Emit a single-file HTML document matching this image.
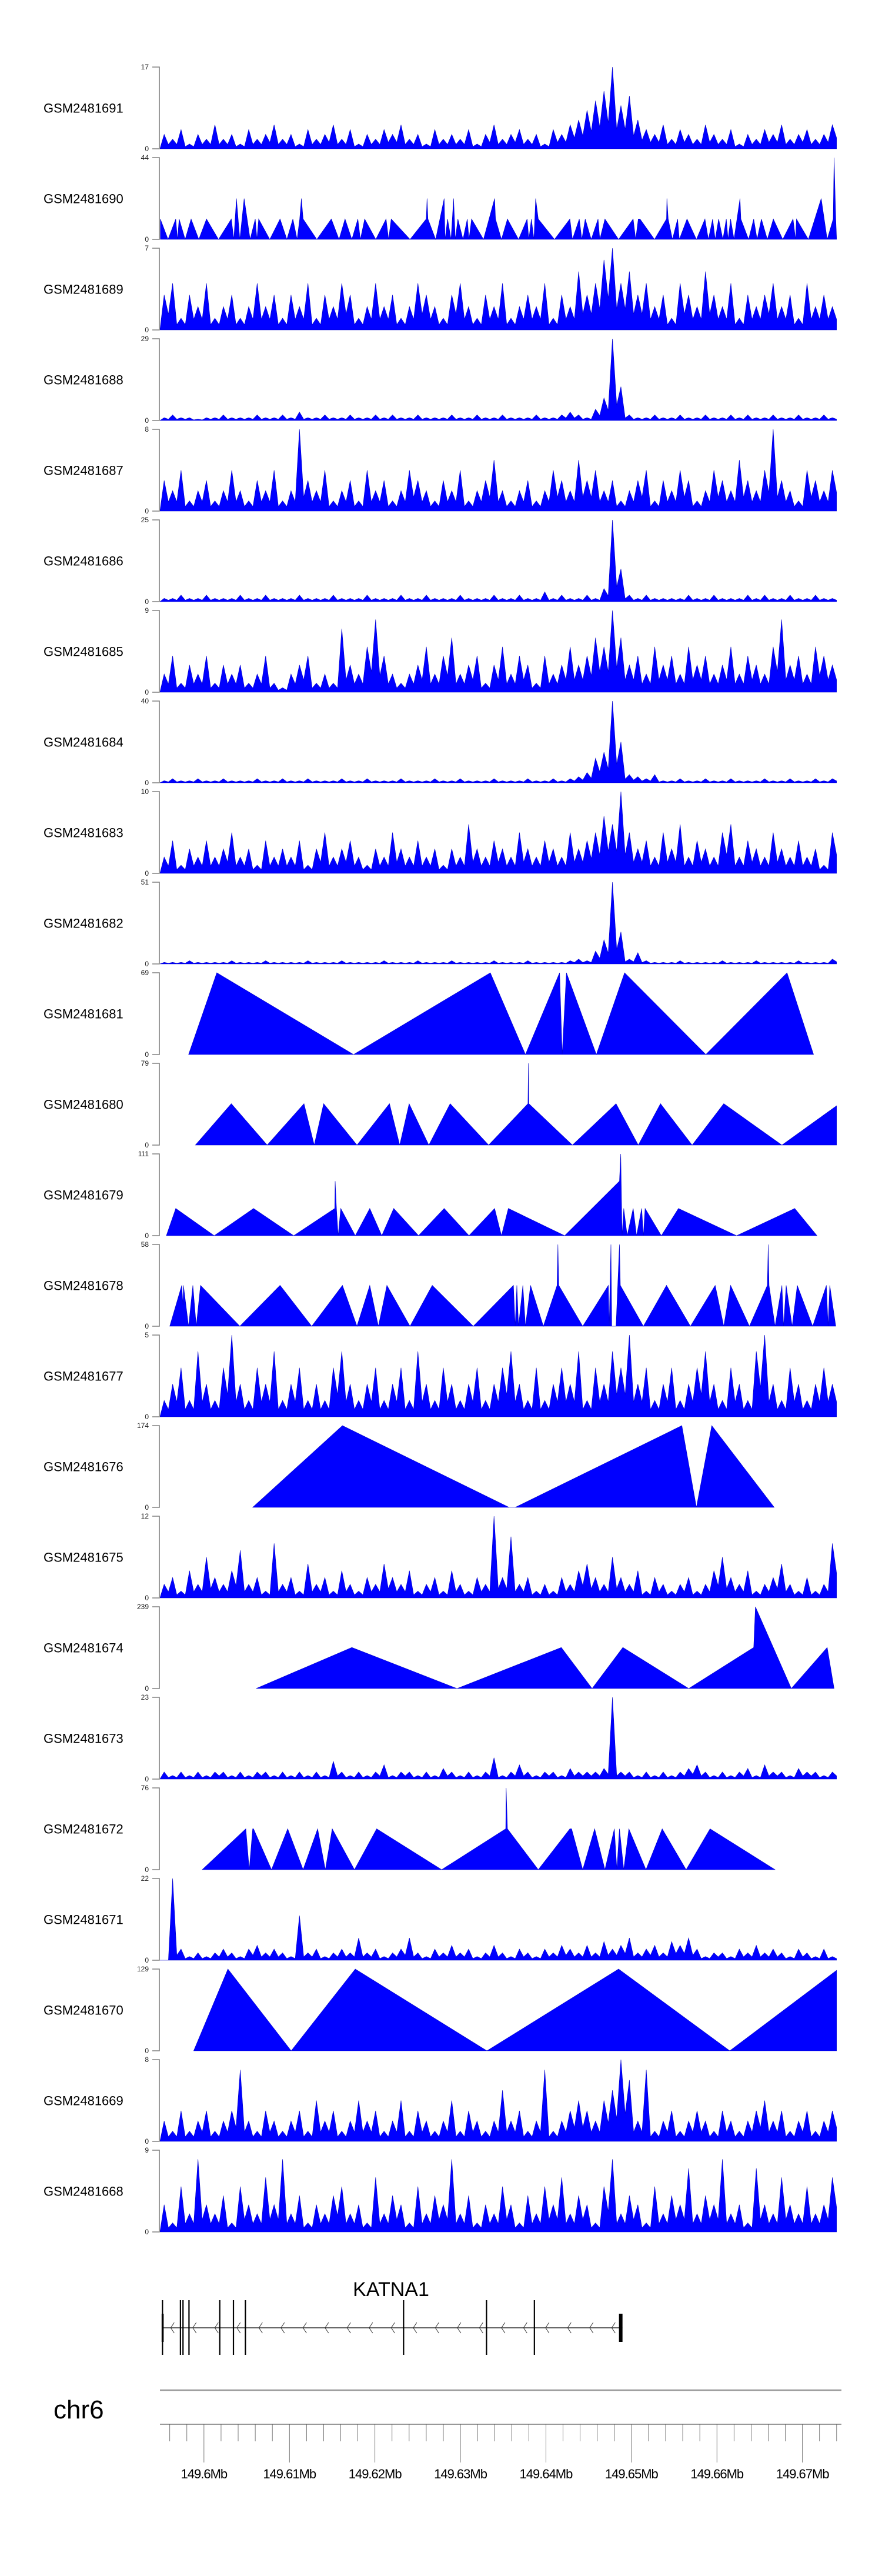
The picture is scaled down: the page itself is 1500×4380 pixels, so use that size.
<!DOCTYPE html>
<html><head><meta charset="utf-8"><title>KATNA1 coverage tracks</title>
<style>
html,body{margin:0;padding:0;background:#fff;}
svg{display:block;font-family:"Liberation Sans",Arial,sans-serif;}
</style></head>
<body>
<svg id="chart" width="1500" height="4380" viewBox="0 0 1500 4380" xmlns="http://www.w3.org/2000/svg">
<defs><clipPath id="plotclip"><rect x="272" y="0" width="1151" height="4380"/></clipPath></defs>
<g id="tracks"></g>
<g id="gene"></g>
<g id="axis"></g>
</svg>
<script>
// ---- data (positions are kb offsets from 149,589.9 kb) ----
const regionStartKb = 149589.9;
const plotStartOff = 4.95;
const plotEndOff = 84.1;
const sampleNames = ["GSM2481691","GSM2481690","GSM2481689","GSM2481688","GSM2481687","GSM2481686","GSM2481685","GSM2481684","GSM2481683","GSM2481682","GSM2481681","GSM2481680","GSM2481679","GSM2481678","GSM2481677","GSM2481676","GSM2481675","GSM2481674","GSM2481673","GSM2481672","GSM2481671","GSM2481670","GSM2481669","GSM2481668"];
const sampleMax = [17,44,7,29,8,25,9,40,10,51,69,79,111,58,5,174,12,239,23,76,22,129,8,9];

const bins1691 = [3,2,4,1,3,2,5,2,3,1,4,2,3,5,2,3,1,4,2,3,5,2,4,1,3,2,4,3,5,2,3,1,4,2,3,2,4,1,3,5,2,3,4,2,3,1,4,3,5,6,8,10,12,17,9,11,6,4,3,5,2,4,3,2,5,3,2,4,1,3,2,4,3,5,2,3,4,2,3,5];
const pts1690 = [[5.0,11],[5.9,0],[6.8,11],[7.0,0],[7.2,11],[7.9,0],[8.6,11],[9.5,0],[10.4,11],[11.8,0],[13.3,11],[13.6,0],[13.9,22],[14.3,0],[14.8,22],[15.5,0],[16.1,11],[16.3,0],[16.5,11],[17.8,0],[19.0,11],[19.8,0],[20.5,11],[21.0,0],[21.3,11],[21.5,22],[21.7,11],[23.3,0],[25.0,11],[25.9,0],[26.6,11],[27.4,0],[28.1,11],[28.4,0],[28.9,11],[30.2,0],[31.4,11],[31.7,0],[32.0,11],[34.2,0],[36.1,11],[36.2,22],[36.3,11],[37.2,0],[38.2,22],[38.3,0],[38.6,11],[39.0,0],[39.3,22],[39.5,0],[39.8,11],[40.4,0],[40.9,11],[41.1,0],[41.4,11],[42.8,0],[44.1,22],[44.2,11],[44.9,0],[45.6,11],[46.9,0],[47.9,11],[48.1,0],[48.4,11],[48.7,0],[48.9,22],[49.2,11],[51.1,0],[52.9,11],[53.2,0],[54.0,11],[54.3,0],[54.7,11],[55.4,0],[56.2,11],[56.4,0],[57.0,11],[58.6,0],[60.3,11],[60.6,0],[60.9,11],[61.1,11],[62.8,0],[64.2,11],[64.25,22],[64.4,11],[64.9,0],[65.5,11],[65.7,0],[66.6,11],[67.7,0],[68.7,11],[69.1,0],[69.6,11],[69.9,0],[70.3,11],[70.8,0],[71.2,11],[71.4,0],[71.7,11],[72.1,0],[72.8,22],[72.9,11],[73.8,0],[74.4,11],[74.8,0],[75.3,11],[76.0,0],[76.7,11],[77.8,0],[79.0,11],[79.3,0],[79.4,11],[80.8,0],[82.3,22],[83.0,0],[83.7,11],[83.8,44],[84.0,11],[84.1,0]];
const bins1689 = [3,4,1,3,2,4,1,2,3,1,2,4,2,3,1,3,2,4,1,3,2,4,3,1,2,4,2,3,1,2,4,3,2,1,3,4,2,1,3,2,4,1,2,3,2,4,1,3,2,5,3,4,6,7,4,5,3,4,2,3,1,4,3,2,5,3,2,4,1,3,2,3,4,2,3,1,4,2,3,2];
const bins1688 = [1,2,1,1,0.5,1,1,2,1,1,1,2,1,1,2,1,3,1,1,2,1,1,2,1,1,2,1,2,1,1,2,1,1,1,2,1,1,2,1,1,2,1,1,1,2,1,1,2,3,2,1,4,8,29,12,2,1,1,2,1,1,2,1,1,2,1,1,2,1,2,1,1,2,1,1,2,1,1,2,1];
const bins1687 = [3,2,4,1,2,3,1,2,4,2,1,3,2,4,1,2,8,3,2,4,1,2,3,1,4,2,3,1,2,4,3,2,1,3,2,4,1,2,3,5,2,1,2,3,1,2,4,3,2,5,3,4,2,3,1,2,3,4,1,3,2,4,3,1,2,4,3,2,5,3,2,4,8,3,2,1,4,3,2,4];
const bins1686 = [1,1,2,1,1,2,1,1,1,2,1,1,2,1,1,1,2,1,1,1,2,1,1,1,2,1,1,1,2,1,1,2,1,1,1,2,1,1,1,2,1,1,2,1,1,3,1,2,1,1,2,1,4,25,10,2,1,2,1,1,1,1,2,1,1,2,1,1,1,2,1,2,1,1,2,1,1,2,1,1];
const bins1685 = [2,4,1,3,2,4,1,3,2,3,1,2,4,1,0.5,2,3,4,1,2,1,7,3,2,5,8,4,2,1,2,3,5,2,4,6,2,3,4,1,3,5,2,4,3,1,4,2,3,5,3,4,6,5,9,6,3,4,2,5,3,4,2,5,3,4,2,3,5,2,4,3,2,5,8,3,4,2,5,4,3];
const bins1684 = [1,2,1,1,2,1,1,2,1,1,1,2,1,1,2,1,1,2,1,1,1,2,1,1,2,1,1,1,2,1,1,1,2,1,1,2,1,1,1,2,1,1,1,2,1,1,2,1,2,3,5,12,15,40,20,4,3,2,4,1,1,2,1,1,2,1,1,2,1,1,1,2,1,1,2,1,1,2,1,2];
const bins1683 = [2,4,1,3,2,4,2,3,5,2,3,1,4,2,3,2,4,1,3,5,2,3,4,2,1,3,2,5,3,2,4,2,3,1,3,2,6,3,2,4,3,2,5,3,2,4,3,2,5,3,4,5,7,6,10,5,3,4,2,5,3,6,2,4,3,2,5,6,2,4,3,2,5,3,2,4,2,3,1,5];
const bins1682 = [1,1,1,2,1,1,1,1,2,1,1,1,2,1,1,1,1,2,1,1,1,2,1,1,1,1,2,1,1,1,2,1,1,1,2,1,1,1,1,2,1,1,1,2,1,1,1,1,2,3,2,8,15,51,20,3,7,2,1,1,1,2,1,1,1,1,2,1,1,1,2,1,1,1,1,2,1,1,1,3];
const pts1681 = [[8.3,0],[11.6,69],[27.6,0],[43.6,69],[47.7,0],[51.7,69],[52.0,0],[52.5,69],[56.0,0],[59.3,69],[68.8,0],[78.3,69],[81.4,0]];
const pts1680 = [[9.1,0],[13.3,40],[17.5,0],[21.8,40],[23.0,0],[24.1,40],[28.0,0],[31.8,40],[33.0,0],[34.1,40],[36.4,0],[38.9,40],[43.4,0],[48.0,40],[48.05,79],[48.1,40],[53.2,0],[58.3,40],[60.9,0],[63.5,40],[67.2,0],[70.9,40],[77.7,0],[84.1,38],[84.1,0]];
const pts1679 = [[5.7,0],[6.8,37],[11.3,0],[15.9,37],[20.6,0],[25.4,37],[25.45,74],[25.6,37],[25.8,0],[26.1,37],[27.8,0],[29.5,37],[30.9,0],[32.3,37],[35.2,0],[38.2,37],[41.1,0],[44.1,37],[44.9,0],[45.7,37],[52.3,0],[58.7,74],[58.85,111],[59.0,0],[59.2,37],[59.6,0],[60.3,37],[60.7,0],[61.3,37],[61.5,0],[61.7,37],[63.6,0],[65.6,37],[72.4,0],[79.2,37],[81.8,0]];
const pts1678 = [[6.1,0],[7.5,29],[7.65,15],[7.7,29],[8.3,0],[8.8,29],[9.2,0],[9.7,29],[14.3,0],[19.0,29],[22.7,0],[26.3,29],[28.0,0],[29.5,29],[30.5,0],[31.5,29],[34.2,0],[36.8,29],[41.6,0],[46.3,29],[46.5,0],[46.7,29],[46.9,0],[47.4,29],[47.7,0],[48.3,29],[49.8,0],[51.4,29],[51.5,58],[51.6,29],[54.4,0],[57.4,29],[57.5,0],[57.7,58],[57.8,0],[58.3,0],[58.7,58],[58.8,29],[61.5,0],[64.2,29],[67.0,0],[69.9,29],[70.9,0],[71.7,29],[73.9,0],[76.0,29],[76.1,58],[76.2,29],[76.9,0],[77.7,29],[77.9,0],[78.2,29],[78.9,0],[79.5,29],[81.3,0],[82.9,29],[83.1,0],[83.3,29],[84.0,0]];
const bins1677 = [1,2,3,1,4,2,1,3,5,2,1,3,2,4,1,2,3,1,2,1,3,4,2,1,2,3,1,2,3,1,4,2,1,3,2,1,2,3,1,2,3,4,2,1,3,1,2,3,2,4,1,3,2,4,3,5,2,3,1,2,3,1,2,3,4,2,1,3,2,1,4,5,2,1,3,2,1,2,3,2];
const pts1676 = [[15.8,0],[26.3,174],[45.8,0],[46.5,0],[66.0,174],[67.7,0],[69.5,174],[76.8,0]];
const bins1675 = [2,3,1,4,2,6,3,2,4,7,2,3,1,8,2,3,1,5,2,3,1,4,2,1,3,2,5,3,2,4,1,2,3,1,4,2,1,3,2,12,3,9,2,3,1,2,1,3,2,4,5,3,2,6,3,2,4,1,3,2,1,2,3,1,2,4,6,3,2,4,1,2,3,5,2,1,3,1,2,8];
const pts1674 = [[16.2,0],[27.4,120],[39.7,0],[51.9,120],[55.5,0],[59.1,120],[66.8,0],[74.4,120],[74.6,239],[78.8,0],[83.0,120],[83.8,0]];
const bins1673 = [2,1,2,1,2,1,2,2,1,2,1,2,2,1,2,1,2,1,2,1,5,2,1,2,1,2,4,1,2,2,1,2,1,3,2,1,2,1,2,6,1,2,4,2,1,2,2,1,3,2,2,2,3,23,2,2,1,2,1,2,1,2,3,4,2,1,2,1,2,3,1,4,2,2,1,3,2,2,1,2];
const pts1672 = [[9.9,0],[15.0,38],[15.4,0],[15.8,38],[15.9,38],[18.0,0],[19.9,38],[21.7,0],[23.4,38],[24.3,0],[25.1,38],[27.7,0],[30.3,38],[37.9,0],[45.4,38],[45.45,76],[45.6,38],[49.2,0],[52.9,38],[53.1,38],[54.4,0],[55.8,38],[57.0,0],[58.1,38],[58.4,0],[58.7,38],[59.2,0],[59.8,38],[61.8,0],[63.7,38],[66.5,0],[69.3,38],[76.9,0]];
const bins1671 = [0,22,3,1,2,1,2,3,2,1,3,4,2,3,2,1,12,2,3,1,2,3,2,6,2,3,1,2,3,6,2,1,3,2,4,2,3,1,2,4,2,1,3,2,1,3,2,4,3,2,4,2,5,3,4,6,2,3,4,2,5,4,6,3,1,2,2,1,3,2,4,2,3,2,1,3,2,1,3,1];
const pts1670 = [[8.9,0],[12.9,129],[20.3,0],[27.8,129],[43.2,0],[58.6,129],[71.6,0],[84.1,127],[84.1,0]];
const bins1669 = [2,1,3,1,2,3,1,2,3,7,2,1,3,2,1,2,3,1,4,2,3,1,2,4,2,3,1,2,4,1,3,2,1,2,4,1,3,2,1,2,5,2,3,1,2,7,1,2,3,4,3,2,4,5,8,6,2,7,1,2,3,1,2,3,2,1,3,2,1,2,3,4,2,3,1,2,3,1,2,3];
const bins1668 = [3,1,5,2,8,3,2,4,1,5,3,2,6,3,8,2,4,1,3,2,4,5,2,3,1,6,2,4,3,1,5,2,4,3,8,2,4,1,3,2,5,3,1,4,2,5,3,6,2,4,3,1,5,8,2,4,3,1,5,2,4,3,7,2,4,3,8,2,3,1,7,3,2,6,3,2,5,2,3,6];

const trackData = [bins1691,pts1690,bins1689,bins1688,bins1687,bins1686,bins1685,bins1684,bins1683,bins1682,pts1681,pts1680,pts1679,pts1678,bins1677,pts1676,bins1675,pts1674,bins1673,pts1672,bins1671,pts1670,bins1669,bins1668];

// gene model (kb offsets)
const geneStartKb = 5.25, geneEndKb = 59.05;
const exonKb = [5.25,7.35,7.65,8.35,11.95,13.55,14.95,33.45,43.15,48.75];
const utrKb = [5.25, 58.85];
const axisTicksKb = [149596,149598,149600,149602,149604,149606,149608,149610,149612,149614,149616,149618,149620,149622,149624,149626,149628,149630,149632,149634,149636,149638,149640,149642,149644,149646,149648,149650,149652,149654,149656,149658,149660,149662,149664,149666,149668,149670,149672,149674];
const axisLabels = ["149.6Mb","149.61Mb","149.62Mb","149.63Mb","149.64Mb","149.65Mb","149.66Mb","149.67Mb"];
const axisLabelKb = [149600,149610,149620,149630,149640,149650,149660,149670];

// ---- scales ----
const NS = "http://www.w3.org/2000/svg";
const PX_PER_KB = 14.54, XORIGIN = 200;
function xOff(off){ return XORIGIN + off*PX_PER_KB; }
function xKb(kb){ return xOff(kb-regionStartKb); }
const TRACK_TOP0 = 114, PITCH = 154, TRACK_H = 139;
function mk(tag, attrs, parent){
  const e = document.createElementNS(NS, tag);
  for (const k in attrs) e.setAttribute(k, attrs[k]);
  parent.appendChild(e); return e;
}

const gTracks = document.getElementById('tracks');
trackData.forEach((data, i) => {
  const top = TRACK_TOP0 + i*PITCH, base = top + TRACK_H, max = sampleMax[i];
  const y = v => base - Math.min(v,max)/max*TRACK_H;
  const g = mk('g', {}, gTracks);
  
  
  const lab = mk('text', {x:74, y:top+TRACK_H/2+8, 'font-size':22, fill:'#000'}, g);
  lab.textContent = sampleNames[i];
  
  
  const ax = mk('path', {d:`M259 ${top}H271V${base}H259`, stroke:'#808080', 'stroke-width':1.6, fill:'none'}, g);
  
  
  const tmax = mk('text', {x:253, y:top+4, 'font-size':12, 'text-anchor':'end', fill:'#222'}, g);
  tmax.textContent = String(max);
  
  
  const tmin = mk('text', {x:253, y:base+4, 'font-size':12, 'text-anchor':'end', fill:'#222'}, g);
  tmin.textContent = '0';
  
  
  let pts = [];
  if (typeof data[0] === 'number') {
    const n = data.length, w = (plotEndOff-plotStartOff)/n, o = plotStartOff;
    pts.push([xOff(o), base]);
    for (let k=0;k<n;k++){
      if (k>0) pts.push([xOff(o+k*w), y(Math.min(data[k-1],data[k])*0.45)]);
      pts.push([xOff(o+(k+0.5)*w), y(data[k])]);
    }
    pts.push([xOff(plotEndOff), y(data[n-1]*0.45)]);
    pts.push([xOff(plotEndOff), base]);
  } else {
    pts.push([xOff(data[0][0]), base]);
    data.forEach(p => pts.push([xOff(p[0]), y(p[1])]));
    pts.push([xOff(data[data.length-1][0]), base]);
  }
  const poly = mk('polygon', {points: pts.map(p=>p[0].toFixed(1)+','+p[1].toFixed(1)).join(' '), fill:'#0000ff', stroke:'#0000c8', 'stroke-width':0.6, 'clip-path':'url(#plotclip)'}, g);
  
  
});

// ---- gene ----
const gGene = document.getElementById('gene');
const GY = 3958;
const gname = mk('text', {x:665, y:3904, 'font-size':34, 'text-anchor':'middle', fill:'#000'}, gGene);
gname.textContent = 'KATNA1';


const gline = mk('line', {x1:xOff(geneStartKb), x2:xOff(geneEndKb), y1:GY, y2:GY, stroke:'#333', 'stroke-width':1.5}, gGene);


for (let ax = xOff(geneStartKb)+14; ax < xOff(geneEndKb)-8; ax += 37.5) {
  const c = mk('path', {d:`M${ax+6} ${GY-9}L${ax} ${GY}L${ax+6} ${GY+9}`, stroke:'#333', 'stroke-width':1, fill:'none'}, gGene);
  
  
}
exonKb.forEach(k => {
  const e = mk('line', {x1:xOff(k), x2:xOff(k), y1:3911, y2:4004, stroke:'#000', 'stroke-width':2.2}, gGene);
  
  
});
utrKb.forEach((k, j) => {
  const u = mk('rect', {x:xOff(k)-(j?3:1.5), y:3934, width:j?6:3.5, height:48, fill:'#000'}, gGene);
  
  
});

// ---- genome axis ----
const gAx = document.getElementById('axis');
const chr = mk('text', {x:91, y:4112, 'font-size':44, fill:'#000'}, gAx);
chr.textContent = 'chr6';


const ideo = mk('line', {x1:272, x2:1431, y1:4064, y2:4064, stroke:'#999', 'stroke-width':2.5}, gAx);


const base = mk('line', {x1:272, x2:1431, y1:4122, y2:4122, stroke:'#999', 'stroke-width':2}, gAx);


axisTicksKb.forEach(k => {
  const major = axisLabelKb.indexOf(k) >= 0;
  const t = mk('line', {x1:xKb(k), x2:xKb(k), y1:4122, y2:major?4187:4151, stroke:'#555', 'stroke-width':0.8}, gAx);
  
  
});
axisLabels.forEach((s, j) => {
  const t = mk('text', {x:xKb(axisLabelKb[j]), y:4214, 'font-size':22, 'text-anchor':'middle', fill:'#000', 'letter-spacing':'-1'}, gAx);
  t.textContent = s;
  
  
});
</script>
</body></html>
